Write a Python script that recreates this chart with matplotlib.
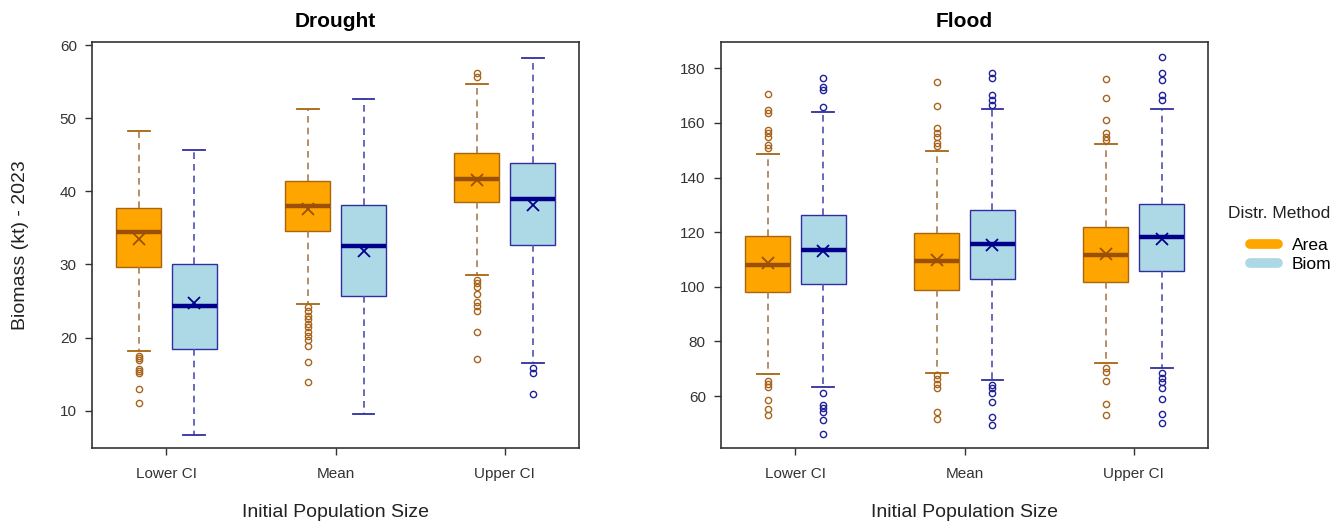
import matplotlib.pyplot as plt
from matplotlib.lines import Line2D

plt.rcParams['font.family'] = ['Liberation Sans', 'DejaVu Sans']

groups = ["Lower CI", "Mean", "Upper CI"]
methods = ["Area", "Biom"]

# Drought: one value per initial population size (Lower CI, Mean, Upper CI)
drought_area_lo = [18.1, 24.6, 28.5]
drought_area_q1 = [29.7, 34.6, 38.5]
drought_area_med = [34.5, 38.0, 41.7]
drought_area_q3 = [37.7, 41.4, 45.2]
drought_area_hi = [48.2, 51.2, 54.7]
drought_area_mean = [33.5, 37.6, 41.5]
drought_area_out = [
    [17.5, 17.2, 16.9, 15.7, 15.4, 15.1, 12.9, 11.1],
    [24.2, 23.6, 23.0, 22.5, 21.9, 21.4, 20.7, 20.2, 19.6, 18.9, 16.6, 13.9],
    [56.2, 55.7, 27.9, 27.4, 26.9, 26.0, 24.8, 24.3, 23.6, 20.8, 17.1],
]

drought_biom_lo = [6.7, 9.55, 16.5]
drought_biom_q1 = [18.5, 25.7, 32.7]
drought_biom_med = [24.25, 32.5, 39.0]
drought_biom_q3 = [30.1, 38.1, 43.9]
drought_biom_hi = [45.7, 52.6, 58.3]
drought_biom_mean = [24.7, 31.8, 38.1]
drought_biom_out = [[], [], [15.85, 15.1, 12.3]]

# Flood
flood_area_lo = [67.9, 68.6, 72.2]
flood_area_q1 = [98.0, 99.0, 101.6]
flood_area_med = [108.1, 109.4, 111.5]
flood_area_q3 = [118.7, 119.8, 122.0]
flood_area_hi = [148.5, 149.7, 152.2]
flood_area_mean = [108.6, 109.8, 112.0]
flood_area_out = [
    [170.5, 164.7, 163.8, 157.4, 156.2, 155.0, 151.9, 150.7,
     65.6, 64.4, 63.2, 58.6, 55.1, 53.0],
    [175.1, 166.4, 158.0, 156.2, 155.0, 152.5, 151.6,
     67.7, 66.1, 64.6, 62.8, 54.2, 51.5],
    [176.1, 169.1, 161.1, 156.4, 154.7, 153.7,
     70.1, 68.9, 65.5, 57.0, 53.0],
]

flood_biom_lo = [63.3, 65.8, 70.4]
flood_biom_q1 = [100.9, 102.8, 105.8]
flood_biom_med = [113.6, 115.8, 118.1]
flood_biom_q3 = [126.3, 128.1, 130.3]
flood_biom_hi = [164.0, 165.3, 165.3]
flood_biom_mean = [113.2, 115.3, 117.5]
flood_biom_out = [
    [176.3, 173.3, 172.1, 166.0, 61.0, 56.7, 55.5, 54.2, 51.4, 46.1],
    [178.2, 176.6, 170.2, 168.4, 166.6, 64.0, 62.8, 61.0, 57.9, 52.4, 49.4],
    [184.0, 178.2, 175.7, 170.2, 168.6,
     68.3, 66.5, 65.2, 62.8, 59.1, 53.3, 50.0],
]

# fill, edge, median, whisker, outlier colours per method
styles = {
    "Area": dict(fill="#FFA500", edge="#A8640F", med="#9A5006",
                 whisk="#A87C52", pts="#A8641C"),
    "Biom": dict(fill="#ADD8E6", edge="#2E2EA0", med="#00008B",
                 whisk="#5050B0", pts="#20209A"),
}


def make_stats(lo, q1, med, q3, hi, mean, out):
    return [dict(whislo=lo[i], q1=q1[i], med=med[i], q3=q3[i], whishi=hi[i],
                 mean=mean[i], fliers=out[i]) for i in range(len(lo))]


def draw_boxes(ax, stats, positions, st):
    ax.bxp(stats, positions=positions, widths=0.265, capwidths=0.13,
           showmeans=True, patch_artist=True,
           boxprops=dict(facecolor=st["fill"], edgecolor=st["edge"], linewidth=1.0),
           medianprops=dict(color=st["med"], linewidth=3.2, solid_capstyle="butt"),
           whiskerprops=dict(color=st["whisk"], linewidth=1.2, linestyle=(0, (4, 3))),
           capprops=dict(color=st["edge"], linewidth=1.3),
           flierprops=dict(marker="o", markerfacecolor="none", markeredgecolor=st["pts"],
                           markersize=4.5, markeredgewidth=1.0),
           meanprops=dict(marker="x", markeredgecolor=st["med"], markersize=9,
                          markeredgewidth=1.3, zorder=5))


fig = plt.figure(figsize=(13.44, 5.27), dpi=100)
ax1 = fig.add_axes([0.0685, 0.150, 0.3624, 0.770])
ax2 = fig.add_axes([0.5365, 0.150, 0.3624, 0.770])

base = [1, 2, 3]
off = 0.165

panels = [
    (ax1, "Drought",
     make_stats(drought_area_lo, drought_area_q1, drought_area_med, drought_area_q3,
                drought_area_hi, drought_area_mean, drought_area_out),
     make_stats(drought_biom_lo, drought_biom_q1, drought_biom_med, drought_biom_q3,
                drought_biom_hi, drought_biom_mean, drought_biom_out),
     (4.9, 60.4), [10, 20, 30, 40, 50, 60]),
    (ax2, "Flood",
     make_stats(flood_area_lo, flood_area_q1, flood_area_med, flood_area_q3,
                flood_area_hi, flood_area_mean, flood_area_out),
     make_stats(flood_biom_lo, flood_biom_q1, flood_biom_med, flood_biom_q3,
                flood_biom_hi, flood_biom_mean, flood_biom_out),
     (41.0, 189.6), [60, 80, 100, 120, 140, 160, 180]),
]

for ax, title, area_stats, biom_stats, ylim, yticks in panels:
    draw_boxes(ax, area_stats, [b - off for b in base], styles["Area"])
    draw_boxes(ax, biom_stats, [b + off for b in base], styles["Biom"])
    ax.set_xlim(0.56, 3.44)
    ax.set_ylim(*ylim)
    ax.set_xticks(base)
    ax.set_xticklabels(groups)
    ax.set_yticks(yticks)
    ax.tick_params(direction="out", length=5, width=1, colors="#333333",
                   labelsize=11, pad=6)
    ax.tick_params(axis="x", pad=9)
    for sp in ax.spines.values():
        sp.set_color("#333333")
        sp.set_linewidth(1.2)
    ax.set_title(title, fontsize=15, fontweight="bold", pad=11)
    ax.set_xlabel("Initial Population Size", fontsize=14, labelpad=16, color="#222222")

ax1.set_ylabel("Biomass (kt) - 2023", fontsize=14, labelpad=22, color="#222222")

# legend title drawn on its own so the gap above the entries can be set
fig.text(0.9515, 1 - 213 / 527, "Distr. Method", fontsize=12.5,
         ha="center", va="center", color="#222222")
handles = [Line2D([0], [0], color=styles[m]["fill"], linewidth=7,
                  solid_capstyle="round") for m in methods]
leg = fig.legend(handles, methods, loc="center left",
                 bbox_to_anchor=(0.9300, 1 - 255 / 527), frameon=False, fontsize=12.5,
                 handlelength=1.6, handletextpad=0.8, labelspacing=0.2,
                 borderpad=0, borderaxespad=0)

fig.savefig("out.png", dpi=100)
